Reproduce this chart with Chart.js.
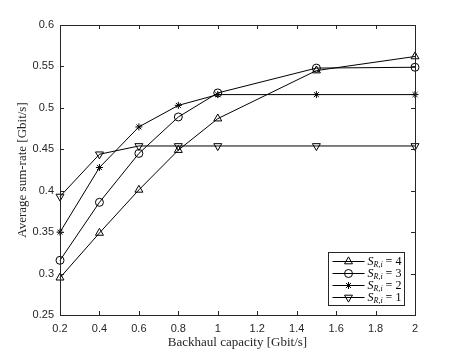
<!DOCTYPE html>
<html>
<head>
<meta charset="utf-8">
<script src="https://cdn.jsdelivr.net/npm/chart.js@4.4.0/dist/chart.umd.min.js"></script>
<style>
    html, body { margin: 0; padding: 0; background: #ffffff; }
    canvas { display: block; }
</style>
</head>
<body>
<canvas id="rateChart" width="458" height="354"></canvas>
<script>
// values
const backhaulCapacity = [0.2, 0.4, 0.6, 0.8, 1, 1.5, 2]
const rateS4 = [0.295, 0.349, 0.401, 0.449, 0.487, 0.545, 0.562]
const rateS3 = [0.316, 0.386, 0.445, 0.489, 0.518, 0.548, 0.549]
const rateS2 = [0.350, 0.428, 0.477, 0.503, 0.516, 0.516, 0.516]
const rateS1 = [0.393, 0.444, 0.454, 0.454, 0.454, 0.454, 0.454]
const legendValues = [4, 3, 2, 1]
const xTicks = [0.2, 0.4, 0.6, 0.8, 1, 1.2, 1.4, 1.6, 1.8, 2]
const yTicks = [0.25, 0.3, 0.35, 0.4, 0.45, 0.5, 0.55, 0.6]

const axisColor = '#262626'
const tickFont = {family: "'Liberation Sans', Arial, sans-serif", size: 11}
const serifFamily = "'Liberation Serif', 'DejaVu Serif', serif"

const makeSeries = (values, style, extra) => {
    return Object.assign({
        data: backhaulCapacity.map((x, i) => ({x: x, y: values[i]})),
        borderColor: '#000000',
        borderWidth: 1,
        pointStyle: style,
        pointRadius: 4,
        pointBorderColor: '#000000',
        pointBackgroundColor: 'transparent',
        pointBorderWidth: 1,
        tension: 0,
        fill: false,
        clip: false
    }, extra || {})
}

const datasets = [
    makeSeries(rateS4, 'triangle', {label: 'S_R,i = 4', pointRadius: 4.6}),
    makeSeries(rateS3, 'circle', {label: 'S_R,i = 3'}),
    makeSeries(rateS2, 'star', {label: 'S_R,i = 2', pointRadius: 3.5}),
    makeSeries(rateS1, 'triangle', {label: 'S_R,i = 1', pointRadius: 4.6, pointRotation: 180})
]

// MATLAB style box with inward ticks on every side
const boxAxesPlugin = {
    id: 'boxAxes',
    afterDatasetsDraw(chart) {
        const ctx = chart.ctx
        const area = chart.chartArea
        const xs = chart.scales.x
        const ys = chart.scales.y
        const len = 4
        ctx.save()
        ctx.strokeStyle = axisColor
        ctx.lineWidth = 1
        ctx.beginPath()
        xTicks.forEach((v) => {
            const px = Math.round(xs.getPixelForValue(v)) + 0.5
            ctx.moveTo(px, area.bottom)
            ctx.lineTo(px, area.bottom - len)
            ctx.moveTo(px, area.top)
            ctx.lineTo(px, area.top + len)
        })
        yTicks.forEach((v) => {
            const py = Math.round(ys.getPixelForValue(v)) + 0.5
            ctx.moveTo(area.left, py)
            ctx.lineTo(area.left + len, py)
            ctx.moveTo(area.right, py)
            ctx.lineTo(area.right - len, py)
        })
        ctx.stroke()
        ctx.strokeRect(Math.round(area.left) + 0.5, Math.round(area.top) + 0.5,
            Math.round(area.right - area.left), Math.round(area.bottom - area.top))
        ctx.restore()
    }
}

const drawMarker = (ctx, ds, x, y) => {
    Chart.helpers.drawPoint(ctx, {
        pointStyle: ds.pointStyle,
        radius: ds.pointRadius,
        rotation: ds.pointRotation || 0,
        borderWidth: 1
    }, x, y)
}

const boxLegendPlugin = {
    id: 'boxLegend',
    afterDraw(chart) {
        const ctx = chart.ctx
        const area = chart.chartArea
        const w = 76
        const h = 53
        const left = Math.round(area.right - 11 - w) + 0.5
        const top = Math.round(area.bottom - 10 - h) + 0.5
        ctx.save()
        ctx.fillStyle = '#ffffff'
        ctx.fillRect(left, top, w, h)
        ctx.strokeStyle = axisColor
        ctx.lineWidth = 1
        ctx.strokeRect(left, top, w, h)

        chart.data.datasets.forEach((ds, i) => {
            const cy = top + 9 + i * 12
            ctx.strokeStyle = '#000000'
            ctx.fillStyle = 'transparent'
            ctx.lineWidth = 1
            ctx.beginPath()
            ctx.moveTo(left + 4, cy)
            ctx.lineTo(left + 36, cy)
            ctx.stroke()
            drawMarker(ctx, ds, left + 20, cy)

            let tx = left + 39
            ctx.fillStyle = '#000000'
            ctx.textBaseline = 'middle'
            ctx.textAlign = 'left'
            ctx.font = 'italic 12px ' + serifFamily
            ctx.fillText('S', tx, cy)
            tx += ctx.measureText('S').width
            ctx.font = 'italic 8px ' + serifFamily
            ctx.fillText('R,i', tx, cy + 3)
            tx += ctx.measureText('R,i').width
            ctx.font = '12px ' + serifFamily
            ctx.fillText(' = ' + legendValues[i], tx, cy)
        })
        ctx.restore()
    }
}

const rateCanvas = document.getElementById('rateChart')

new Chart(rateCanvas, {
    type: 'line',
    data: {datasets: datasets},
    options: {
        responsive: false,
        animation: false,
        layout: {
            padding: {top: 25, right: 43, left: 0, bottom: 0}
        },
        scales: {
            x: {
                type: 'linear',
                min: 0.2,
                max: 2,
                afterBuildTicks: (scale) => {
                    scale.ticks = xTicks.map((v) => ({value: v}))
                },
                afterFit: (scale) => {
                    scale.height = 39
                },
                grid: {display: false, drawTicks: false},
                border: {display: false},
                ticks: {
                    color: axisColor,
                    font: tickFont,
                    padding: 7,
                    maxRotation: 0,
                    callback: (v) => String(Number(v.toFixed(2)))
                },
                title: {
                    display: true,
                    text: 'Backhaul capacity [Gbit/s]',
                    color: axisColor,
                    font: {family: serifFamily, size: 13},
                    padding: {top: 0, bottom: 4}
                }
            },
            y: {
                type: 'linear',
                min: 0.25,
                max: 0.6,
                afterBuildTicks: (scale) => {
                    scale.ticks = yTicks.map((v) => ({value: v}))
                },
                afterFit: (scale) => {
                    scale.width = 60
                },
                grid: {display: false, drawTicks: false},
                border: {display: false},
                ticks: {
                    color: axisColor,
                    font: tickFont,
                    padding: 6,
                    callback: (v) => String(Number(v.toFixed(2)))
                },
                title: {
                    display: true,
                    text: 'Average sum-rate [Gbit/s]',
                    color: axisColor,
                    font: {family: serifFamily, size: 13},
                    padding: {top: 15, bottom: 0}
                }
            }
        },
        plugins: {
            legend: {display: false},
            tooltip: {enabled: false}
        }
    },
    plugins: [boxAxesPlugin, boxLegendPlugin]
})
</script>
</body>
</html>
